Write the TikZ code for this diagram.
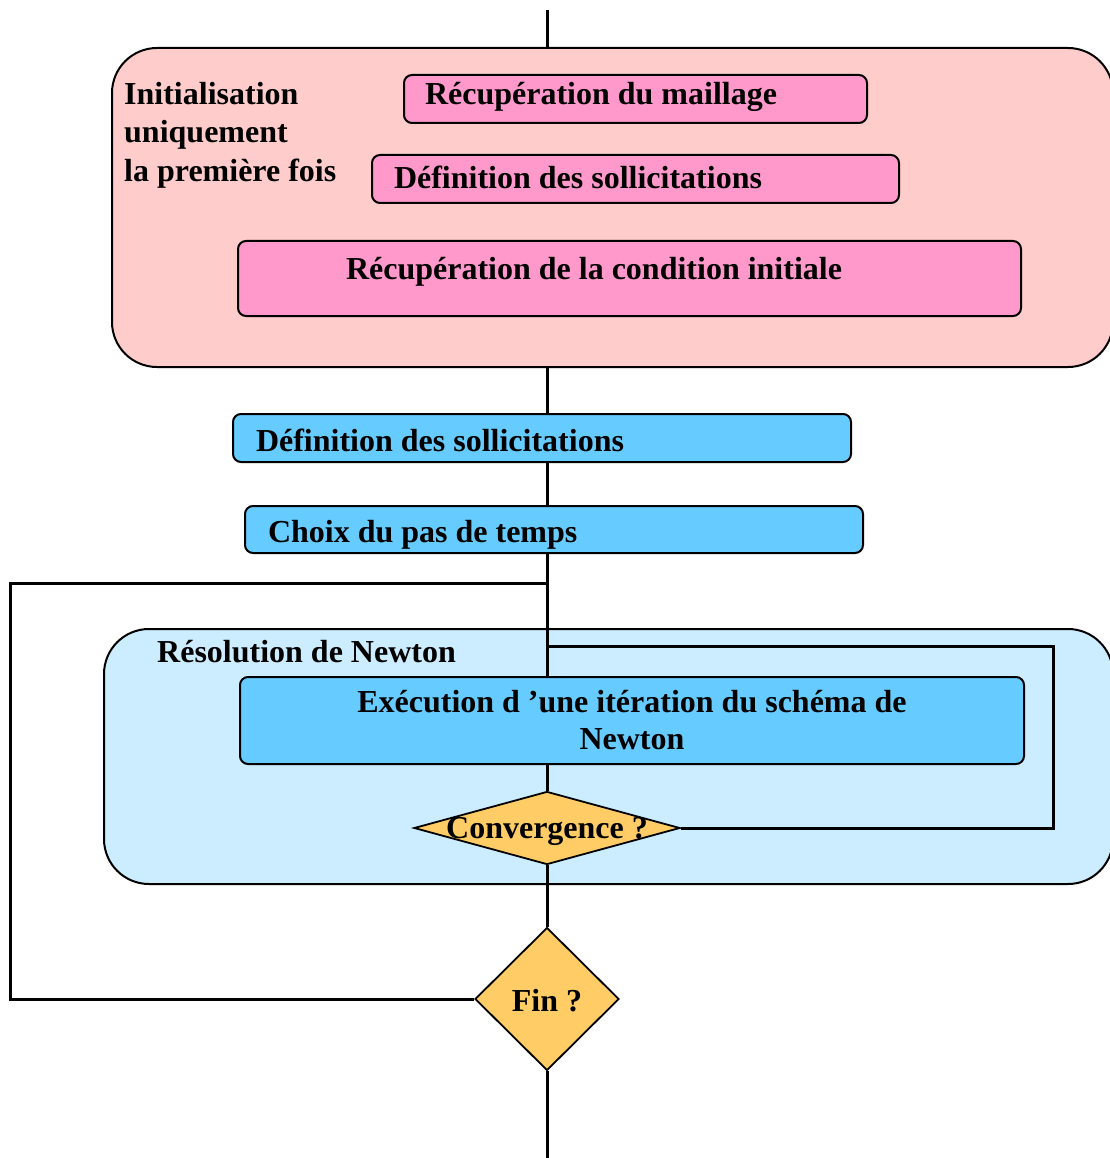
\documentclass[tikz,border=0pt]{standalone}
\usepackage{fontspec}
\setmainfont{Liberation Serif}
\usepackage{xcolor}
\usetikzlibrary{shapes.geometric}
\definecolor{initpink}{HTML}{FFCCCC}
\definecolor{steppink}{HTML}{FF99CC}
\definecolor{newtonblue}{HTML}{CCECFF}
\definecolor{stepblue}{HTML}{66CCFF}
\definecolor{testgold}{HTML}{FFCC66}

\tikzset{
  every node/.style={font=\fontsize{32}{38}\selectfont\bfseries},
  tightspace/.style={execute at begin node={\spaceskip=\fontdimen2\font\xspaceskip=0pt\relax}},
  groupbox/.style={draw, line width=2pt, rounded corners=45pt, inner sep=0pt, anchor=north west},
  stepbox/.style={draw, line width=2pt, rounded corners=8pt, inner ysep=0pt, align=left, anchor=north west, tightspace},
  testbox/.style={draw, diamond, line width=1.8pt, fill=testgold, inner sep=0pt},
  flow/.style={line width=3pt},
}

\begin{document}
\begin{tikzpicture}[x=1pt, y=-1pt]
\useasboundingbox (0,0) rectangle (1109,1158);
\node[groupbox, fill=initpink, minimum width=1001pt, minimum height=319pt] (init) at (111,47) {};
\node[anchor=north west, align=left, inner sep=0pt, font=\fontsize{32}{38.5}\selectfont\bfseries, tightspace] (initlbl) at (124,82) {Initialisation\\uniquement\\la première fois};
\node[stepbox, fill=steppink, inner xsep=21pt, text width=421pt, text height=30pt, text depth=18pt] (maill) at (403,74) {Récupération du maillage};
\node[stepbox, fill=steppink, inner xsep=22pt, text width=483pt, text height=34pt, text depth=14pt] (solli1) at (371,154) {Définition des sollicitations};
\node[stepbox, fill=steppink, inner xsep=108pt, text width=567pt, text height=38pt, text depth=37pt] (condinit) at (237,240) {Récupération de la condition initiale};
\node[stepbox, fill=stepblue, inner xsep=23pt, text width=572pt, text height=37pt, text depth=11pt] (solli2) at (232,413) {Définition des sollicitations};
\node[stepbox, fill=stepblue, inner xsep=23pt, text width=572pt, text height=36pt, text depth=11pt] (choix) at (244,505) {Choix du pas de temps};
\node[groupbox, fill=newtonblue, minimum width=1009pt, minimum height=255pt] (newton) at (103,628) {};
\node[anchor=base west, inner sep=0pt] (newtonlbl) at (157,662) {Résolution de Newton};
\node[stepbox, fill=stepblue, align=center, inner xsep=20pt, text width=744pt, minimum height=87pt, font=\fontsize{32}{37}\selectfont\bfseries] (exec) at (239,676) {Exécution d ’une itération du schéma de\\Newton};
\node[testbox, minimum width=266pt, minimum height=73pt, text height=23pt, text depth=3pt] (conv) at (547,828) {\makebox[0pt][c]{Convergence ?}};
\node[testbox, minimum width=144pt, minimum height=143pt, text height=24pt, text depth=0pt] (fin) at (547,999) {Fin ?};

\coordinate (topend) at (547,10);
\coordinate (botend) at (547,1158);
\coordinate (loopj) at (547,583);
\coordinate (loopl) at (10,583);
\coordinate (nwtj) at (547,646);
\coordinate (nwtr) at (1053,646);

\draw[flow] (topend) -- (topend |- init.north);
\draw[flow] (topend |- init.south) -- (topend |- solli2.north);
\draw[flow] (topend |- solli2.south) -- (topend |- choix.north);
\draw[flow] (topend |- choix.south) -- (topend |- exec.north);
\draw[flow] (topend |- exec.south) -- (conv.north);
\draw[flow] (conv.south) -- (fin.north);
\draw[flow] (fin.south) -- (botend);
% boucles
\draw[flow] (fin.west) -| (loopl) -- (loopj);
\draw[flow] (conv.east) -| (nwtr) -- (nwtj);
\end{tikzpicture}
\end{document}
